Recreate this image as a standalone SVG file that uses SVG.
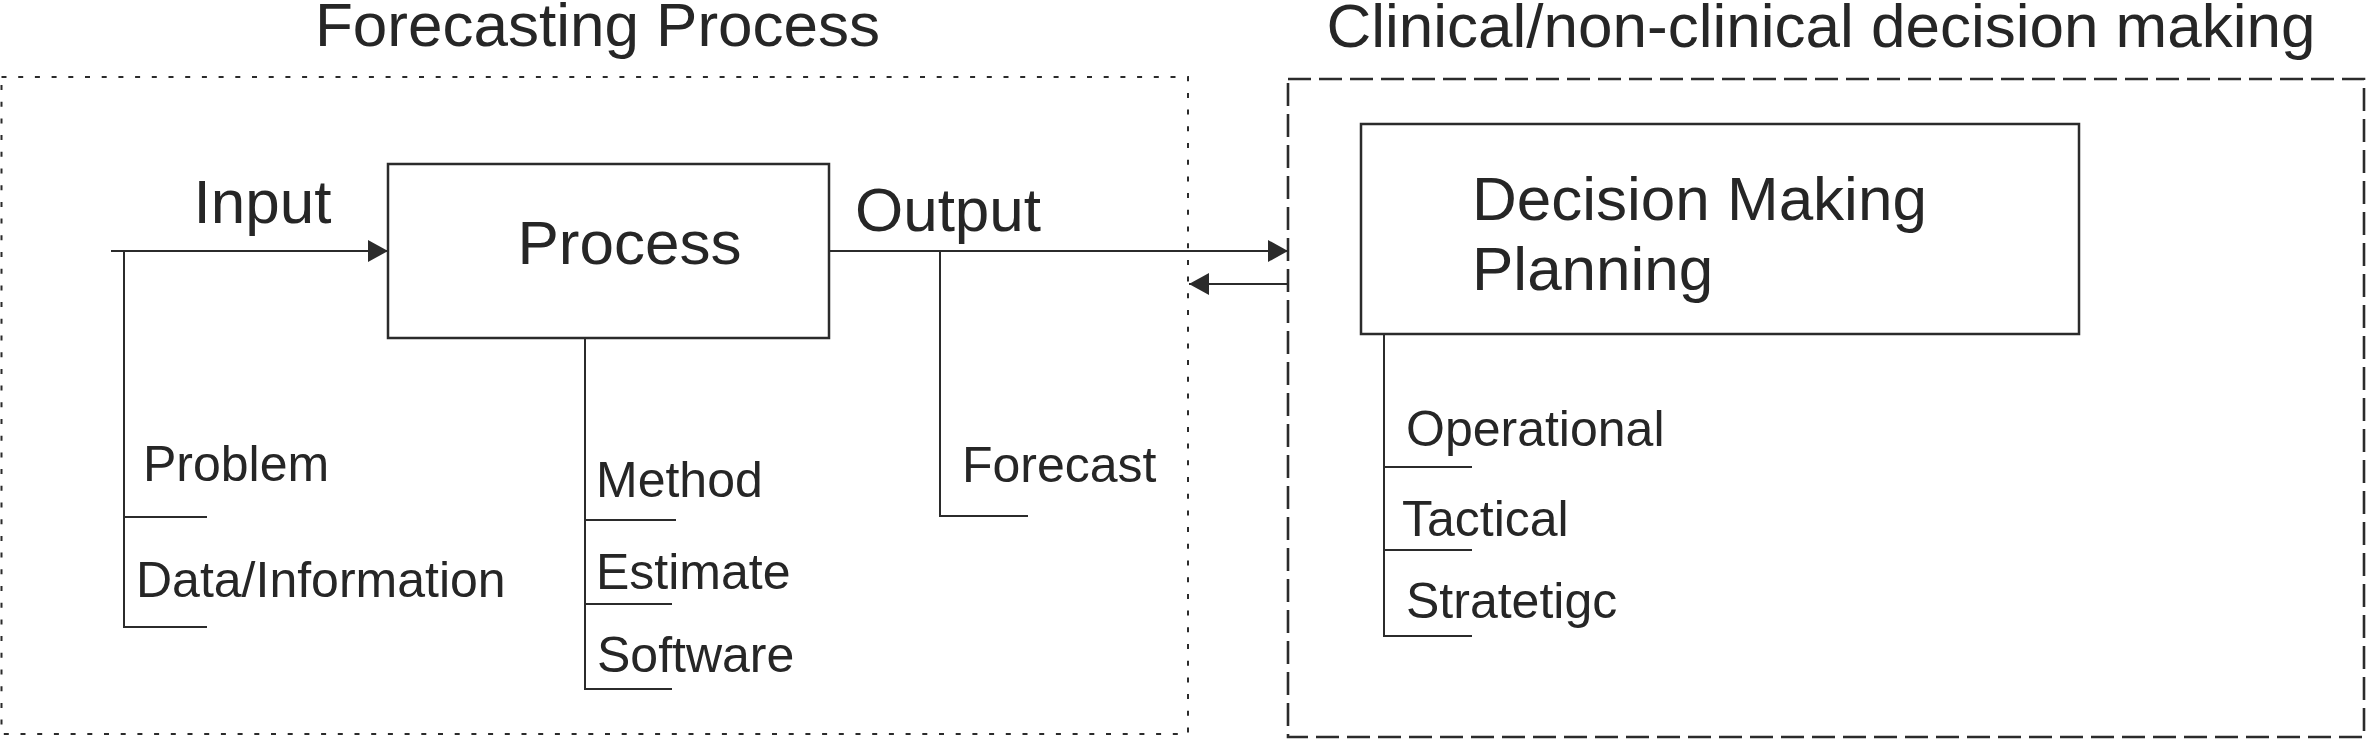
<svg xmlns="http://www.w3.org/2000/svg" width="2366" height="739" viewBox="0 0 2366 739">
<style>
text{font-family:"Liberation Sans",Arial,sans-serif;fill:#262626}
.big{font-size:62px}
.small{font-size:50px}
.box{fill:#fff;stroke:#2b2b2b;stroke-width:2.5}
.ln{fill:none;stroke:#2b2b2b;stroke-width:2}
.dot{fill:none;stroke:#2b2b2b;stroke-width:2;stroke-dasharray:5 11.7}
.dash{fill:none;stroke:#2b2b2b;stroke-width:2.6;stroke-dasharray:23 8}
</style>
<defs>
<marker id="ah" viewBox="0 0 20 22" refX="20" refY="11" markerWidth="20" markerHeight="22" markerUnits="userSpaceOnUse" orient="auto">
<path d="M0,0 L20,11 L0,22 Z" fill="#2b2b2b"/>
</marker>
</defs>
<rect width="2366" height="739" fill="#fff"/>
<g id="forecasting-group">
<rect class="dot" x="1.5" y="77" width="1186.5" height="657"/>
<text class="big" x="597.5" y="46" text-anchor="middle">Forecasting Process</text>
</g>
<g id="decision-group">
<rect class="dash" x="1288" y="79" width="1076" height="658"/>
<text class="big" x="1821" y="47" text-anchor="middle">Clinical/non-clinical decision making</text>
</g>
<g id="connectors">
<line class="ln" x1="111" y1="251" x2="388" y2="251" marker-end="url(#ah)"/>
<line class="ln" x1="829" y1="251" x2="1288" y2="251" marker-end="url(#ah)"/>
<line class="ln" x1="1288" y1="284" x2="1189" y2="284" marker-end="url(#ah)"/>
<path class="ln" d="M124,251 V627 H207 M124,517 H207"/>
<path class="ln" d="M585,338 V689 H672 M585,520 H676 M585,604 H672"/>
<path class="ln" d="M940,251 V516 H1028"/>
<path class="ln" d="M1384,334 V636 H1472 M1384,467 H1472 M1384,550 H1472"/>
</g>
<g id="input">
<text class="big" x="262.5" y="223" text-anchor="middle">Input</text>
<text class="small" x="143" y="481">Problem</text>
<text class="small" x="136" y="597">Data/Information</text>
</g>
<g id="process">
<rect class="box" x="388" y="164" width="441" height="174"/>
<text class="big" x="629.5" y="264" text-anchor="middle">Process</text>
<text class="small" x="596" y="497">Method</text>
<text class="small" x="596" y="589">Estimate</text>
<text class="small" x="597" y="672">Software</text>
</g>
<g id="output">
<text class="big" x="948" y="231" text-anchor="middle">Output</text>
<text class="small" x="962" y="482">Forecast</text>
</g>
<g id="decision">
<rect class="box" x="1361" y="124" width="718" height="210"/>
<text class="big" x="1472" y="220">Decision Making</text>
<text class="big" x="1472" y="290">Planning</text>
<text class="small" x="1406" y="446">Operational</text>
<text class="small" x="1402" y="536">Tactical</text>
<text class="small" x="1406" y="618">Stratetigc</text>
</g>
</svg>
